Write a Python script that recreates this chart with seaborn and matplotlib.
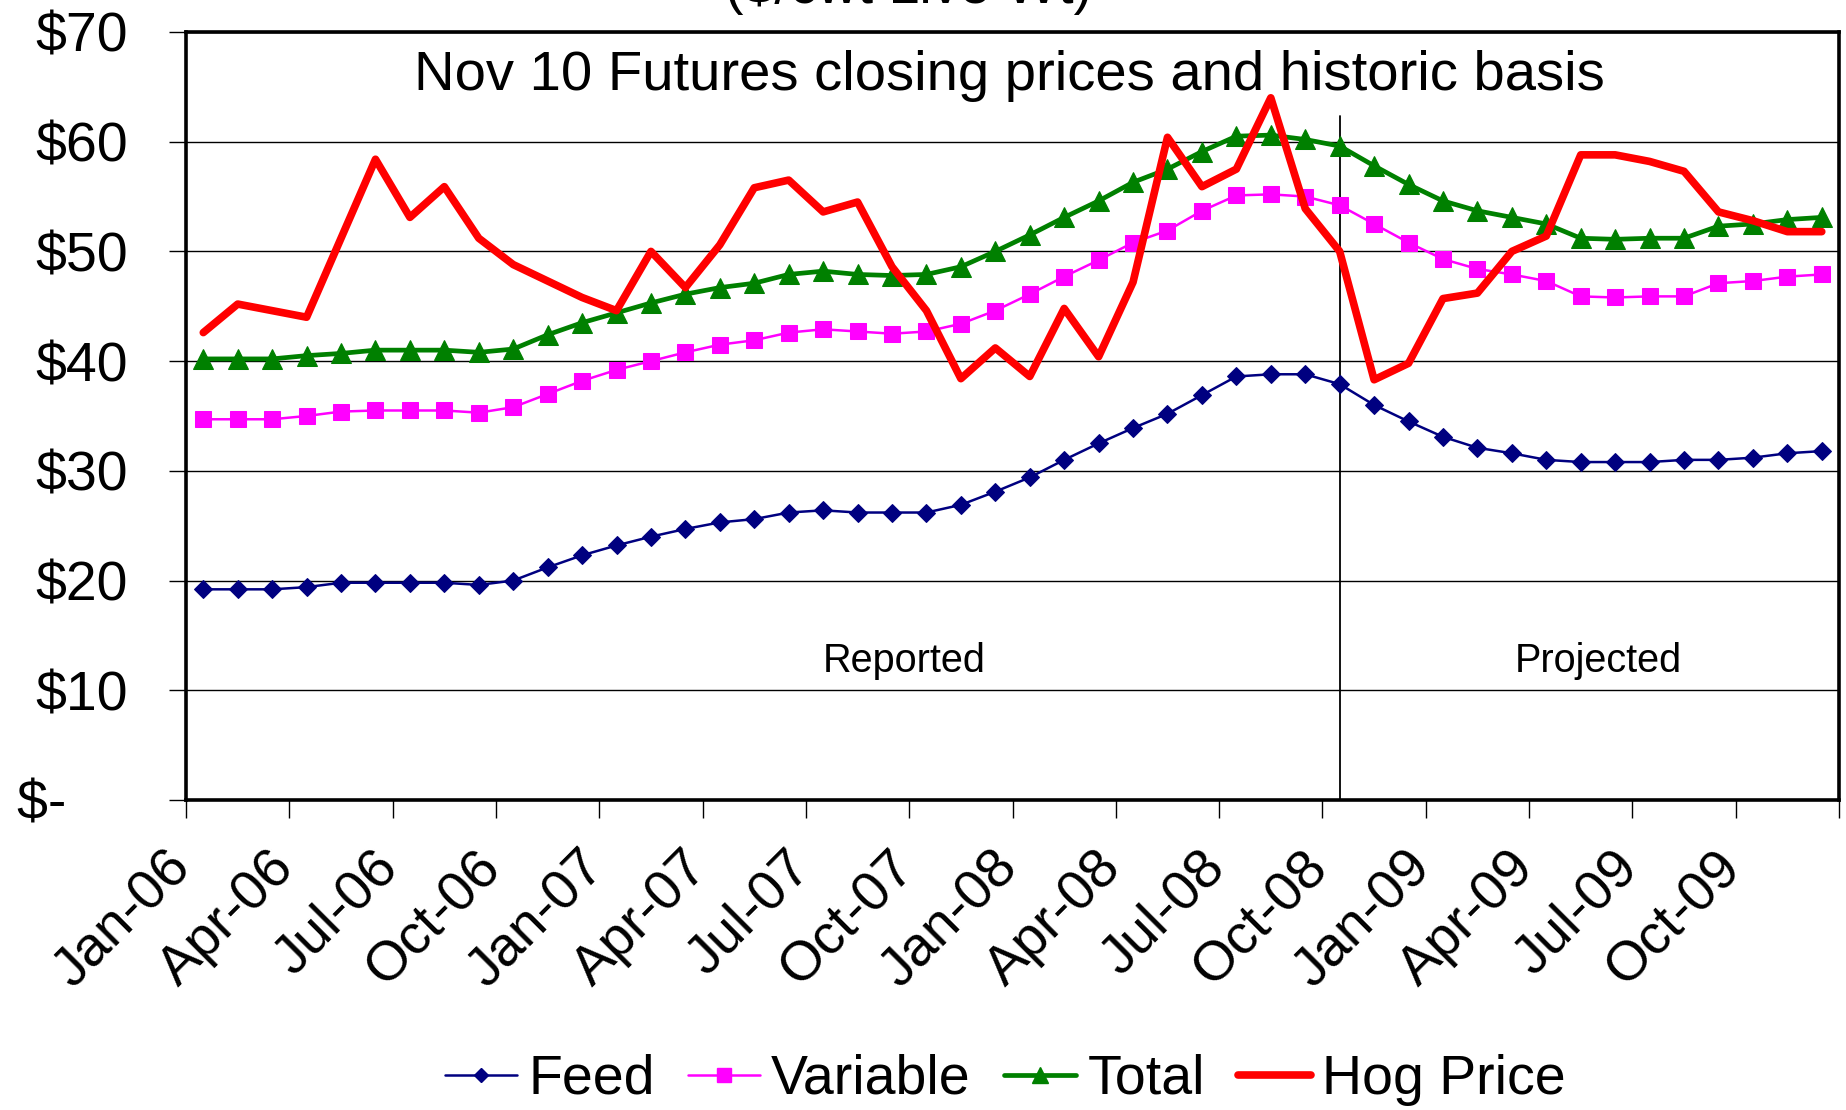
import numpy as np
import pandas as pd
import seaborn as sns
import matplotlib.pyplot as plt
from matplotlib.lines import Line2D
from matplotlib.transforms import ScaledTranslation

# monthly series, Jan-06 .. Dec-09 ($/cwt live weight)
months = pd.date_range("2006-01-01", periods=48, freq="MS").strftime("%b-%y").tolist()

feed = [19.2, 19.2, 19.2, 19.4, 19.8, 19.8, 19.8, 19.8, 19.6, 20.0,
        21.2, 22.3, 23.2, 24.0, 24.7, 25.3, 25.6, 26.2, 26.4, 26.2,
        26.2, 26.2, 26.9, 28.1, 29.4, 31.0, 32.5, 33.9, 35.2, 36.9,
        38.6, 38.8, 38.8, 37.9, 36.0, 34.5, 33.1, 32.1, 31.6, 31.0,
        30.8, 30.8, 30.8, 31.0, 31.0, 31.2, 31.6, 31.8]

variable = [34.7, 34.7, 34.7, 35.0, 35.4, 35.5, 35.5, 35.5, 35.3, 35.8,
            37.0, 38.2, 39.2, 40.0, 40.8, 41.5, 41.9, 42.6, 42.9, 42.7,
            42.5, 42.7, 43.4, 44.6, 46.1, 47.7, 49.2, 50.8, 51.9, 53.7,
            55.1, 55.2, 55.0, 54.2, 52.5, 50.8, 49.3, 48.4, 47.9, 47.3,
            45.9, 45.8, 45.9, 45.9, 47.1, 47.3, 47.7, 47.9]

total = [40.2, 40.2, 40.2, 40.5, 40.7, 41.0, 41.0, 41.0, 40.8, 41.1,
         42.4, 43.5, 44.4, 45.3, 46.1, 46.7, 47.1, 47.9, 48.2, 47.9,
         47.8, 47.9, 48.6, 50.0, 51.5, 53.1, 54.6, 56.3, 57.5, 59.1,
         60.5, 60.6, 60.2, 59.6, 57.8, 56.1, 54.6, 53.7, 53.1, 52.5,
         51.2, 51.1, 51.2, 51.2, 52.3, 52.5, 52.9, 53.1]

hog = [42.6, 45.2, 44.6, 44.0, 51.2, 58.4, 53.1, 55.9, 51.2, 48.8,
       47.3, 45.8, 44.6, 50.0, 46.7, 50.6, 55.8, 56.5, 53.6, 54.5,
       48.6, 44.6, 38.4, 41.2, 38.6, 44.8, 40.4, 47.2, 60.4, 55.9,
       57.5, 64.0, 53.9, 50.0, 38.3, 39.8, 45.7, 46.2, 50.0, 51.4,
       58.8, 58.8, 58.2, 57.3, 53.6, 52.8, 51.8, 51.8]

split_month = "Oct-08"   # last reported month
y_ticks = [0, 10, 20, 30, 40, 50, 60, 70]
y_labels = ["$-    ", "$10", "$20", "$30", "$40", "$50", "$60", "$70"]

df = pd.DataFrame({"idx": np.arange(len(months)), "month": months,
                   "Feed": feed, "Variable": variable, "Total": total, "Hog Price": hog})

sns.set_style("white")
plt.rcParams["font.family"] = ["Liberation Sans", "DejaVu Sans"]
plt.rcParams["text.color"] = "black"
plt.rcParams["xtick.color"] = "black"
plt.rcParams["ytick.color"] = "black"

fig = plt.figure(figsize=(18.46, 11.1), dpi=100)
ax = fig.add_axes([0.1008, 0.2793, 0.8954, 0.6919])

styles = {
    "Feed": dict(color="#000080", marker="D", markersize=9, linewidth=1.8),
    "Variable": dict(color="#FF00FF", marker="s", markersize=12, linewidth=1.8),
    "Total": dict(color="#008000", marker="^", markersize=14.5, linewidth=3.4),
    "Hog Price": dict(color="#FF0000", marker=None, markersize=0, linewidth=5.5),
}

for name in ["Feed", "Variable", "Total", "Hog Price"]:
    st = styles[name]
    sns.lineplot(data=df, x="idx", y=name, ax=ax, color=st["color"],
                 marker=st["marker"], markersize=st["markersize"],
                 markeredgecolor=st["color"], linewidth=st["linewidth"],
                 label=name, legend=False, zorder=3)

# reported / projected divider
sx = months.index(split_month)
ax.plot([sx, sx], [0, 62.3], color="black", linewidth=1.3, zorder=2)

ax.set_xlim(-0.5, len(months) - 0.5)
ax.set_ylim(0, 70)
ax.set_xlabel("")
ax.set_ylabel("")

ax.set_yticks(y_ticks)
ax.set_yticklabels(y_labels, fontsize=40, color="black")
ax.yaxis.grid(True, color="black", linewidth=1.0)
ax.tick_params(axis="y", length=12, width=1.0, color="black", direction="out", left=True, pad=30)

label_pos = list(range(0, len(months), 3))
ax.set_xticks(label_pos)
ax.set_xticklabels([months[i] for i in label_pos], rotation=45, ha="right",
                   va="center", rotation_mode="anchor", fontsize=40, color="black")
ax.tick_params(axis="x", which="major", length=0, pad=43)
shift = ScaledTranslation(-20 / 100, 0, fig.dpi_scale_trans)
for lab in ax.get_xticklabels():
    lab.set_transform(lab.get_transform() + shift)
ax.set_xticks(np.arange(-0.5, len(months), 3), minor=True)
ax.tick_params(axis="x", which="minor", length=13, width=1.0, color="black", direction="out", bottom=True)

for sp in ax.spines.values():
    sp.set_visible(True)
    sp.set_color("black")
    sp.set_linewidth(2.6)

ax.text(20.35, 12.7, "Reported", ha="center", va="center", fontsize=28.5)
ax.text(40.5, 12.7, "Projected", ha="center", va="center", fontsize=28.5)
fig.text(1009 / 1846, 1 - 76 / 1110, "Nov 10 Futures closing prices and historic basis",
         ha="center", va="center", fontsize=40.5)
fig.text(909 / 1846, 1 - 3 / 1110, "($/cwt Live Wt)", ha="center", va="baseline", fontsize=40)

handles = []
for name in ["Feed", "Variable", "Total", "Hog Price"]:
    st = styles[name]
    handles.append(Line2D([0], [0], color=st["color"], marker=st["marker"],
                          markersize=st["markersize"] * 0.8, markeredgecolor=st["color"],
                          linewidth=st["linewidth"], label=name))
fig.legend(handles=handles, loc="center", bbox_to_anchor=(1005 / 1846, 1 - 1080 / 1110),
           ncol=4, frameon=False, fontsize=40, handlelength=1.3, handletextpad=0.2,
           columnspacing=0.6, borderaxespad=0)

fig.savefig("out.png", dpi=100)
